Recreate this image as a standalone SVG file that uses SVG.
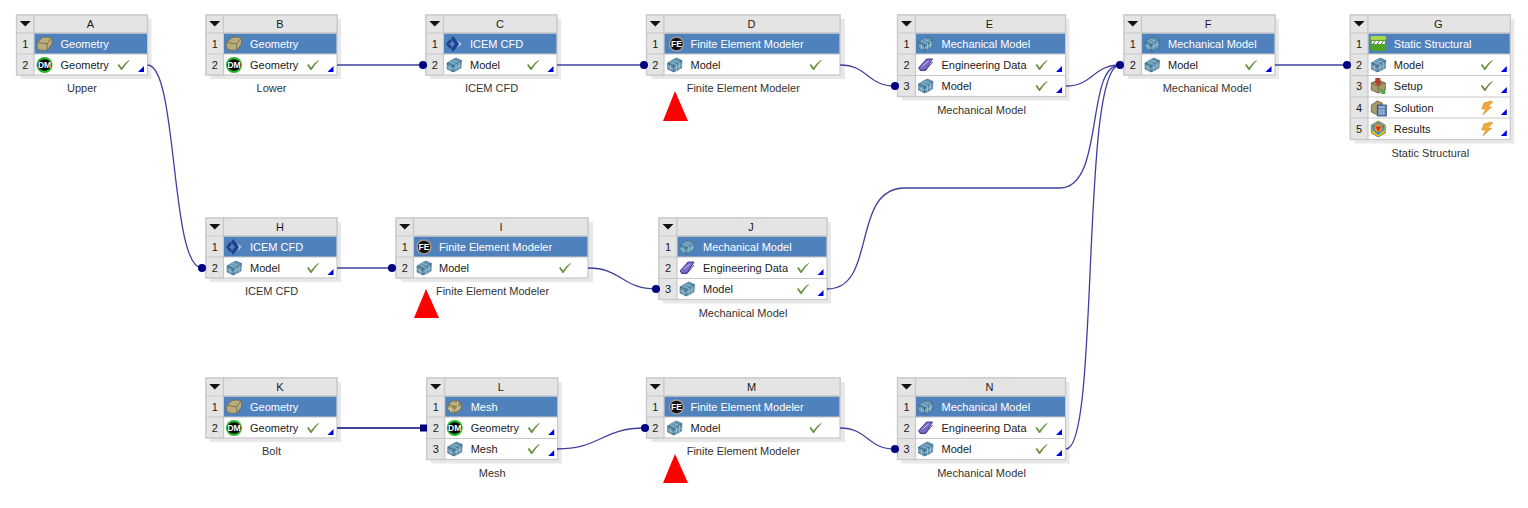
<svg xmlns="http://www.w3.org/2000/svg" width="1528" height="508" viewBox="0 0 1528 508">
<style>
text{font-family:"Liberation Sans",Arial,sans-serif;font-size:11px;dominant-baseline:central}
.shadow{fill:#e8e8e8}
.frame{fill:#fff;stroke:#c8c8c8;stroke-width:1.2}
.hd{fill:#e4e4e4;stroke:#c8c8c8;stroke-width:1.2}
.sel{fill:#4f81bd}
.sep{stroke:#c8c8c8;stroke-width:1.2;fill:none}
.t{fill:#1a1a1a}
.w{fill:#fff}
.c{text-anchor:middle;fill:#1a1a1a}
.l{text-anchor:middle;fill:#333}
.conn{fill:none;stroke:#3f3f9f;stroke-width:1.3}
.dark{fill:none;stroke:#000080;stroke-width:1.3}
.dot{fill:#000080}
.red{fill:#ff0000}
.ic{text-anchor:middle;font-size:8.500px;font-weight:bold;fill:#fff}
</style>
<defs>
<path id="menu" d="M-5.500 -3H5.500L0 2.500Z" fill="#111"/>
<path id="chk" d="M-6 0L-4.500 -1L-2 2.500Q1.500 -2.500 5.500 -5L6 -4.500Q2 -0.500 -1.500 5H-2.500Z" fill="#6b8f45"/>
<path id="tri" d="M6 0V6H0Z" fill="#0000e0"/>
<g id="geo"><path d="M-7.500 -1.500L-2 -6.500Q2 -7.500 7 -6.500Q8 -3 7.500 0L3 6Q-2 7 -6.500 5.500Q-8 2 -7.500 -1.500Z" fill="#b8ab7c" stroke="#6f6745" stroke-width=".8"/><path d="M-7 -1.500Q-2 -1 2.500 0L7 -6M2.500 0L3 6" fill="none" stroke="#6f6745" stroke-width=".8"/></g>
<g id="dm"><circle r="8" fill="#28b428"/><ellipse rx="6.800" ry="5.800" fill="#000"/><text class="ic" x="0" y="0">DM</text></g>
<g id="cube"><path d="M-7 -2Q-1 -6 2 -7L7.500 -4.500L7 3Q2 6 -1 7L-7 4Z" fill="#5f93b0" stroke="#3b6a84" stroke-width=".6"/><path d="M-7 -2L-1 1L7.500 -4.500M-1 1V7" fill="none" stroke="#2f5b74" stroke-width=".7"/><path d="M-4.500 -3.500L1.500 -0.500M-2 -5L4 -2.500M-4 0V5.500M-7 1.500L-1 4.500M2 -1V5.500M5 -3V4M-1 4L7 0" fill="none" stroke="#b7d3e2" stroke-width=".6"/></g>
<g id="icem"><path d="M-8 0L-4 -5L-2 -3L-5 0L-2 3L-4 5Z" fill="#1f3f8f"/><path d="M-1 -8L5 0L-1 8L-3 5L1 0L-3 -5Z" fill="#1f3f8f"/><path d="M3 -4L8 0L3 4L5 0Z" fill="#a9bfe6"/></g>
<g id="fe"><circle r="7.800" fill="#9a9a9a"/><circle r="6.200" fill="#111"/><text class="ic" x="0" y="0">FE</text></g>
<g id="book"><path d="M-7 3L1 -6H7L0 5Q-5 7 -7 3Z" fill="#7b6bc9" stroke="#463a8c"/><path d="M-6 5L0 5.500L7 -3" fill="none" stroke="#463a8c"/><path d="M-3 1L3 -4" stroke="#c8c0ee"/></g>
<g id="mesh"><path d="M-7 -2L-1 -7L7 -4L6 3L-1 7L-7 3Z" fill="#a89c68" stroke="#6e6543" stroke-width=".7"/><path d="M-7 -2L0 0L7 -4M0 0V7" fill="none" stroke="#6e6543" stroke-width=".7"/><path d="M-4 -4L3 -2M3 -6V3M-4 -1V5M-7 1L0 3.500M0 3.500L6 0" fill="none" stroke="#e6dfba" stroke-width=".7"/></g>
<g id="ss"><rect x="-8" y="-8" width="16" height="15" rx="3" fill="#4ea32a"/><rect x="-8" y="-8" width="16" height="4" rx="2" fill="#a6d84c"/><rect x="-6.500" y="-3" width="13" height="3" fill="#fff"/><path d="M-5 0L-3 -3M-1 0L1 -3M3 0L5 -3" stroke="#333" stroke-width=".8"/></g>
<g id="setup"><path d="M-7 -3L0 -6L7 -3V4L0 7L-7 4Z" fill="#a89a6a" stroke="#665c3a" stroke-width=".8"/><path d="M-7 -3L0 0L7 -3M0 0V7" fill="none" stroke="#665c3a" stroke-width=".7"/><path d="M-3 -8H2V-4H4L0 0L-4 -4H-3Z" fill="#b8402a"/><path d="M2 2L5 5L7 3V8H2L4 6L1 3Z" fill="#4aa84a"/></g>
<g id="sol"><path d="M-7 -3L-1 -7L4 -5V7H-1L-7 4Z" fill="#a89a6a" stroke="#665c3a" stroke-width=".8"/><rect x="-1" y="-3" width="9" height="11" fill="#5b7fb0" stroke="#2e4a73" stroke-width=".8"/><path d="M0.500 -1H6.500" stroke="#dfe8f5"/><path d="M0.500 2H6.500M0.500 4H6.500M0.500 6H6.500" stroke="#dfe8f5" stroke-dasharray="1.500 .6"/></g>
<g id="res"><path d="M-7 -4L0 -8L7 -4V4L0 8L-7 4Z" fill="#e8c820" stroke="#222" stroke-width=".5"/><path d="M-6 -3.500L0 -7L6 -3.500V1L0 6L-6 1Z" fill="#2b8fd0"/><circle cy="-1" r="4" fill="#f09020"/><path d="M-3 -2.500H3L0 2.500Z" fill="#d6301e"/></g>
<path id="bolt" d="M4 -7L-3 -5L-5 1H-1L-4 7L5 -1H1L6 -6Z" fill="#f2a93b" stroke="#c47d1a" stroke-width=".5"/>
</defs>
<g id="node-A" transform="translate(16.500 15)"><rect class="shadow" x="4" y="4" width="131" height="60"/><rect class="frame" width="131" height="60"/><rect class="hd" width="17.500" height="60"/><rect class="hd" x="17.500" width="113.500" height="18"/><rect class="sel" x="18" y="18.500" width="112.500" height="20.500"/><path class="sep" d="M0 18H131M0 39H131"/><use href="#menu" x="8.750" y="9"/><text class="c" x="74" y="9">A</text><text class="c" x="8.750" y="28.500">1</text><use href="#geo" x="28" y="29"/><text class="w" x="44" y="29">Geometry</text><text class="c" x="8.750" y="50">2</text><use href="#dm" x="28" y="50"/><text class="t" x="44" y="50">Geometry</text><use href="#chk" x="107" y="50"/><use href="#tri" x="121.500" y="51"/><text class="l" x="65.500" y="73">Upper</text></g>
<g id="node-B" transform="translate(206 15)"><rect class="shadow" x="4" y="4" width="131" height="60"/><rect class="frame" width="131" height="60"/><rect class="hd" width="17.500" height="60"/><rect class="hd" x="17.500" width="113.500" height="18"/><rect class="sel" x="18" y="18.500" width="112.500" height="20.500"/><path class="sep" d="M0 18H131M0 39H131"/><use href="#menu" x="8.750" y="9"/><text class="c" x="74" y="9">B</text><text class="c" x="8.750" y="28.500">1</text><use href="#geo" x="28" y="29"/><text class="w" x="44" y="29">Geometry</text><text class="c" x="8.750" y="50">2</text><use href="#dm" x="28" y="50"/><text class="t" x="44" y="50">Geometry</text><use href="#chk" x="107" y="50"/><use href="#tri" x="121.500" y="51"/><text class="l" x="65.500" y="73">Lower</text></g>
<g id="node-C" transform="translate(426 15)"><rect class="shadow" x="4" y="4" width="131" height="60"/><rect class="frame" width="131" height="60"/><rect class="hd" width="17.500" height="60"/><rect class="hd" x="17.500" width="113.500" height="18"/><rect class="sel" x="18" y="18.500" width="112.500" height="20.500"/><path class="sep" d="M0 18H131M0 39H131"/><use href="#menu" x="8.750" y="9"/><text class="c" x="74" y="9">C</text><text class="c" x="8.750" y="28.500">1</text><use href="#icem" x="28" y="29"/><text class="w" x="44" y="29">ICEM CFD</text><text class="c" x="8.750" y="50">2</text><use href="#cube" x="28" y="50"/><text class="t" x="44" y="50">Model</text><use href="#chk" x="107" y="50"/><use href="#tri" x="121.500" y="51"/><text class="l" x="65.500" y="73">ICEM CFD</text></g>
<g id="node-D" transform="translate(646.500 15)"><rect class="shadow" x="5" y="4" width="193.500" height="60"/><rect class="frame" width="193.500" height="60"/><rect class="hd" width="17.500" height="60"/><rect class="hd" x="17.500" width="176" height="18"/><rect class="sel" x="18" y="18.500" width="175" height="20.500"/><path class="sep" d="M0 18H193.500M0 39H193.500"/><use href="#menu" x="8.750" y="9"/><text class="c" x="105" y="9">D</text><text class="c" x="8.750" y="28.500">1</text><use href="#fe" x="30" y="29"/><text class="w" x="44" y="29">Finite Element Modeler</text><text class="c" x="8.750" y="50">2</text><use href="#cube" x="28" y="50"/><text class="t" x="44" y="50">Model</text><use href="#chk" x="169" y="50"/><text class="l" x="96.750" y="73">Finite Element Modeler</text></g>
<g id="node-E" transform="translate(897.500 15)"><rect class="shadow" x="4" y="4" width="168" height="81.500"/><rect class="frame" width="168" height="81.500"/><rect class="hd" width="18" height="81.500"/><rect class="hd" x="18" width="150" height="18"/><rect class="sel" x="18.500" y="18.500" width="149" height="20.500"/><path class="sep" d="M0 18H168M0 39H168M0 60.500H168"/><use href="#menu" x="9" y="9"/><text class="c" x="92" y="9">E</text><text class="c" x="9" y="28.500">1</text><use href="#cube" x="28" y="29"/><text class="w" x="44" y="29">Mechanical Model</text><text class="c" x="9" y="50">2</text><use href="#book" x="28" y="50"/><text class="t" x="44" y="50">Engineering Data</text><use href="#chk" x="144" y="50"/><use href="#tri" x="158.500" y="51"/><text class="c" x="9" y="71">3</text><use href="#cube" x="28" y="71"/><text class="t" x="44" y="71">Model</text><use href="#chk" x="144" y="71"/><use href="#tri" x="158.500" y="72"/><text class="l" x="84" y="95">Mechanical Model</text></g>
<g id="node-F" transform="translate(1124 15)"><rect class="shadow" x="4" y="4" width="151" height="60"/><rect class="frame" width="151" height="60"/><rect class="hd" width="17.500" height="60"/><rect class="hd" x="17.500" width="133.500" height="18"/><rect class="sel" x="18" y="18.500" width="132.500" height="20.500"/><path class="sep" d="M0 18H151M0 39H151"/><use href="#menu" x="8.750" y="9"/><text class="c" x="84" y="9">F</text><text class="c" x="8.750" y="28.500">1</text><use href="#cube" x="28" y="29"/><text class="w" x="44" y="29">Mechanical Model</text><text class="c" x="8.750" y="50">2</text><use href="#cube" x="28" y="50"/><text class="t" x="44" y="50">Model</text><use href="#chk" x="127" y="50"/><use href="#tri" x="141.500" y="51"/><text class="l" x="83" y="73">Mechanical Model</text></g>
<g id="node-G" transform="translate(1350.300 15)"><rect class="shadow" x="4" y="4" width="160" height="124.500"/><rect class="frame" width="160" height="124.500"/><rect class="hd" width="17.700" height="124.500"/><rect class="hd" x="17.700" width="142.300" height="18"/><rect class="sel" x="18.200" y="18.500" width="141.300" height="20.500"/><path class="sep" d="M0 18H160M0 39H160M0 60.500H160M0 82H160M0 103H160"/><use href="#menu" x="8.850" y="9"/><text class="c" x="88" y="9">G</text><text class="c" x="8.850" y="28.500">1</text><use href="#ss" x="28" y="29"/><text class="w" x="43.500" y="29">Static Structural</text><text class="c" x="8.850" y="50">2</text><use href="#cube" x="28" y="50"/><text class="t" x="43.500" y="50">Model</text><use href="#chk" x="136.500" y="50"/><use href="#tri" x="150.500" y="51"/><text class="c" x="8.850" y="71">3</text><use href="#setup" x="28" y="71"/><text class="t" x="43.500" y="71">Setup</text><use href="#chk" x="136.500" y="71"/><use href="#tri" x="150.500" y="72"/><text class="c" x="8.850" y="93">4</text><use href="#sol" x="28" y="93"/><text class="t" x="43.500" y="93">Solution</text><use href="#bolt" x="136.500" y="93"/><use href="#tri" x="150.500" y="94"/><text class="c" x="8.850" y="114">5</text><use href="#res" x="28" y="114"/><text class="t" x="43.500" y="114">Results</text><use href="#bolt" x="136.500" y="114"/><use href="#tri" x="150.500" y="115"/><text class="l" x="80" y="137.500">Static Structural</text></g>
<g id="node-H" transform="translate(206 218)"><rect class="shadow" x="4" y="4" width="131" height="60"/><rect class="frame" width="131" height="60"/><rect class="hd" width="17.500" height="60"/><rect class="hd" x="17.500" width="113.500" height="18"/><rect class="sel" x="18" y="18.500" width="112.500" height="20.500"/><path class="sep" d="M0 18H131M0 39H131"/><use href="#menu" x="8.750" y="9"/><text class="c" x="74" y="9">H</text><text class="c" x="8.750" y="28.500">1</text><use href="#icem" x="28" y="29"/><text class="w" x="44" y="29">ICEM CFD</text><text class="c" x="8.750" y="50">2</text><use href="#cube" x="28" y="50"/><text class="t" x="44" y="50">Model</text><use href="#chk" x="107" y="50"/><use href="#tri" x="121.500" y="51"/><text class="l" x="65.500" y="73">ICEM CFD</text></g>
<g id="node-I" transform="translate(396 218)"><rect class="shadow" x="5" y="4" width="192" height="60"/><rect class="frame" width="192" height="60"/><rect class="hd" width="17.500" height="60"/><rect class="hd" x="17.500" width="174.500" height="18"/><rect class="sel" x="18" y="18.500" width="173.500" height="20.500"/><path class="sep" d="M0 18H192M0 39H192"/><use href="#menu" x="8.750" y="9"/><text class="c" x="105" y="9">I</text><text class="c" x="8.750" y="28.500">1</text><use href="#fe" x="28" y="29"/><text class="w" x="43" y="29">Finite Element Modeler</text><text class="c" x="8.750" y="50">2</text><use href="#cube" x="28" y="50"/><text class="t" x="43" y="50">Model</text><use href="#chk" x="169" y="50"/><text class="l" x="96.500" y="73">Finite Element Modeler</text></g>
<g id="node-J" transform="translate(659 218)"><rect class="shadow" x="4" y="4" width="168" height="81.500"/><rect class="frame" width="168" height="81.500"/><rect class="hd" width="18" height="81.500"/><rect class="hd" x="18" width="150" height="18"/><rect class="sel" x="18.500" y="18.500" width="149" height="20.500"/><path class="sep" d="M0 18H168M0 39H168M0 60.500H168"/><use href="#menu" x="9" y="9"/><text class="c" x="92" y="9">J</text><text class="c" x="9" y="28.500">1</text><use href="#cube" x="28" y="29"/><text class="w" x="44" y="29">Mechanical Model</text><text class="c" x="9" y="50">2</text><use href="#book" x="28" y="50"/><text class="t" x="44" y="50">Engineering Data</text><use href="#chk" x="144" y="50"/><use href="#tri" x="158.500" y="51"/><text class="c" x="9" y="71">3</text><use href="#cube" x="28" y="71"/><text class="t" x="44" y="71">Model</text><use href="#chk" x="144" y="71"/><use href="#tri" x="158.500" y="72"/><text class="l" x="84" y="95">Mechanical Model</text></g>
<g id="node-K" transform="translate(206 378)"><rect class="shadow" x="4" y="4" width="131" height="60"/><rect class="frame" width="131" height="60"/><rect class="hd" width="17.500" height="60"/><rect class="hd" x="17.500" width="113.500" height="18"/><rect class="sel" x="18" y="18.500" width="112.500" height="20.500"/><path class="sep" d="M0 18H131M0 39H131"/><use href="#menu" x="8.750" y="9"/><text class="c" x="74" y="9">K</text><text class="c" x="8.750" y="28.500">1</text><use href="#geo" x="28" y="29"/><text class="w" x="44" y="29">Geometry</text><text class="c" x="8.750" y="50">2</text><use href="#dm" x="28" y="50"/><text class="t" x="44" y="50">Geometry</text><use href="#chk" x="107" y="50"/><use href="#tri" x="121.500" y="51"/><text class="l" x="65.500" y="73">Bolt</text></g>
<g id="node-L" transform="translate(426.700 378)"><rect class="shadow" x="4" y="4" width="131" height="81.500"/><rect class="frame" width="131" height="81.500"/><rect class="hd" width="18" height="81.500"/><rect class="hd" x="18" width="113" height="18"/><rect class="sel" x="18.500" y="18.500" width="112" height="20.500"/><path class="sep" d="M0 18H131M0 39H131M0 60.500H131"/><use href="#menu" x="9" y="9"/><text class="c" x="74" y="9">L</text><text class="c" x="9" y="28.500">1</text><use href="#mesh" x="28" y="29"/><text class="w" x="44" y="29">Mesh</text><text class="c" x="9" y="50">2</text><use href="#dm" x="28" y="50"/><text class="t" x="44" y="50">Geometry</text><use href="#chk" x="107" y="50"/><use href="#tri" x="121.500" y="51"/><text class="c" x="9" y="71">3</text><use href="#cube" x="28" y="71"/><text class="t" x="44" y="71">Mesh</text><use href="#chk" x="107" y="71"/><use href="#tri" x="121.500" y="72"/><text class="l" x="65.500" y="95">Mesh</text></g>
<g id="node-M" transform="translate(646.500 378)"><rect class="shadow" x="5" y="4" width="193.500" height="60"/><rect class="frame" width="193.500" height="60"/><rect class="hd" width="17.500" height="60"/><rect class="hd" x="17.500" width="176" height="18"/><rect class="sel" x="18" y="18.500" width="175" height="20.500"/><path class="sep" d="M0 18H193.500M0 39H193.500"/><use href="#menu" x="8.750" y="9"/><text class="c" x="105" y="9">M</text><text class="c" x="8.750" y="28.500">1</text><use href="#fe" x="30" y="29"/><text class="w" x="44" y="29">Finite Element Modeler</text><text class="c" x="8.750" y="50">2</text><use href="#cube" x="28" y="50"/><text class="t" x="44" y="50">Model</text><use href="#chk" x="169" y="50"/><text class="l" x="96.750" y="73">Finite Element Modeler</text></g>
<g id="node-N" transform="translate(897.500 378)"><rect class="shadow" x="4" y="4" width="168" height="81.500"/><rect class="frame" width="168" height="81.500"/><rect class="hd" width="18" height="81.500"/><rect class="hd" x="18" width="150" height="18"/><rect class="sel" x="18.500" y="18.500" width="149" height="20.500"/><path class="sep" d="M0 18H168M0 39H168M0 60.500H168"/><use href="#menu" x="9" y="9"/><text class="c" x="92" y="9">N</text><text class="c" x="9" y="28.500">1</text><use href="#cube" x="28" y="29"/><text class="w" x="44" y="29">Mechanical Model</text><text class="c" x="9" y="50">2</text><use href="#book" x="28" y="50"/><text class="t" x="44" y="50">Engineering Data</text><use href="#chk" x="144" y="50"/><use href="#tri" x="158.500" y="51"/><text class="c" x="9" y="71">3</text><use href="#cube" x="28" y="71"/><text class="t" x="44" y="71">Model</text><use href="#chk" x="144" y="71"/><use href="#tri" x="158.500" y="72"/><text class="l" x="84" y="95">Mechanical Model</text></g>
<g id="connectors">
<path class="conn" d="M147.500 65C178 65 170 268 202 268"/>
<path class="conn" d="M337 65H423"/>
<path class="conn" d="M557 65H644"/>
<path class="conn" d="M840 65C868 65 867 86 895 86"/>
<path class="conn" d="M1066 86C1093 86 1093 65 1120 65"/>
<path class="conn" d="M1275 65H1347"/>
<path class="conn" d="M337 268H392"/>
<path class="conn" d="M588 268C622 268 622 289 656 289"/>
<path class="conn" d="M827 289C878 289 850 188 905 188H1060C1105 188 1085 65 1120 65"/>
<path class="conn" d="M1066 449C1100 449 1080 65 1120 65"/>
<path class="dark" d="M337 428H423"/>
<path class="conn" d="M557 449C601 449 601 428 645 428"/>
<path class="conn" d="M840 428C868 428 867 449 895 449"/>
<circle class="dot" cx="423" cy="65" r="4"/><circle class="dot" cx="644" cy="65" r="4"/><circle class="dot" cx="895" cy="86" r="4"/><circle class="dot" cx="1120" cy="65" r="4"/><circle class="dot" cx="1347" cy="65" r="4"/><circle class="dot" cx="202" cy="268" r="4"/><circle class="dot" cx="392" cy="268" r="4"/><circle class="dot" cx="656" cy="289" r="4"/><rect class="dot" x="420" y="424.500" width="7" height="7"/><circle class="dot" cx="645" cy="428" r="4"/><circle class="dot" cx="895" cy="449" r="4"/>
</g>
<g id="markers"><polygon class="red" points="675,91 663,121 688,121"/><polygon class="red" points="426,289 414,318 439,318"/><polygon class="red" points="675,454 663,483 688,483"/></g>
</svg>
